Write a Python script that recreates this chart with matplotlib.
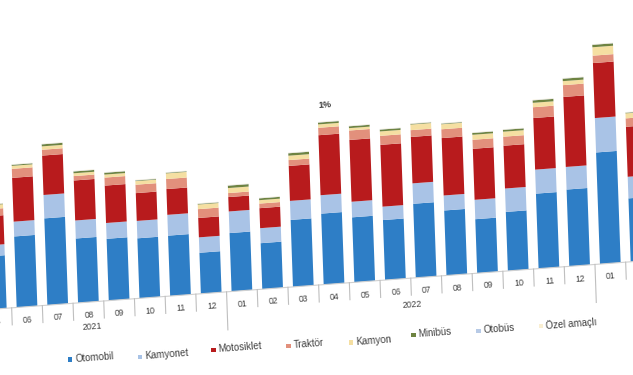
import numpy as np
import matplotlib
matplotlib.use('Agg')
import matplotlib.pyplot as plt
from matplotlib.patches import Rectangle
from matplotlib.transforms import Affine2D, IdentityTransform

plt.rcParams['font.family'] = ['Liberation Sans', 'DejaVu Sans']

# monthly registrations (bin adet), 05/2021 - 02/2023
months = ['05', '06', '07', '08', '09', '10', '11', '12',
          '01', '02', '03', '04', '05', '06', '07', '08', '09', '10', '11', '12',
          '01', '02']
years = ['2021', '2022']
otomobil = [26.5, 35.5, 43.4, 32.2, 30.9, 30.0, 30.2, 20.5, 29.2, 23.0, 33.5,
            35.5, 32.5, 30.0, 37.0, 32.5, 27.0, 29.5, 37.5, 38.4, 55.8, 31.7]
kamyonet = [5.5, 7.4, 11.7, 9.0, 7.9, 8.7, 10.4, 7.7, 10.8, 7.5, 9.5, 9.2,
            7.8, 6.7, 10.2, 7.5, 9.7, 11.7, 12.0, 11.3, 17.2, 10.8]
motosiklet = [14.5, 21.9, 19.7, 20.0, 18.7, 13.9, 12.9, 9.7, 7.2, 10.0, 17.5,
              30.0, 30.9, 30.9, 23.2, 28.7, 25.5, 21.4, 25.8, 35.0, 27.5, 25.0]
traktor = [3.5, 4.5, 2.9, 2.2, 4.0, 4.2, 5.0, 4.4, 2.0, 2.3, 2.9, 3.7, 4.7,
           4.5, 3.4, 4.4, 4.5, 4.5, 5.4, 5.9, 3.7, 4.2]
kamyon = [2.0, 1.5, 1.7, 1.4, 1.5, 1.8, 2.8, 2.3, 2.5, 1.7, 2.2, 1.7, 1.2,
          2.2, 2.8, 2.5, 2.5, 2.5, 2.2, 2.0, 4.2, 2.5]
minibus = [0.3, 0.5, 1.0, 0.9, 0.9, 0.3, 0.3, 0.3, 1.2, 0.9, 1.2, 0.9, 0.9,
           0.9, 0.3, 0.3, 0.9, 0.9, 1.2, 1.2, 1.2, 0.3]
otobus = [0.15] * 22
ozel = [0.2] * 22

series = {
    'Otomobil': (otomobil, '#2E7EC6'),
    'Kamyonet': (kamyonet, '#A9C3E6'),
    'Motosiklet': (motosiklet, '#B81B1D'),
    'Traktör': (traktor, '#E2907C'),
    'Kamyon': (kamyon, '#F5DFA2'),
    'Minibüs': (minibus, '#6E8341'),
    'Otobüs': (otobus, '#B7CAE6'),
    'Özel amaçlı': (ozel, '#FAEFD2'),
}

fig = plt.figure(figsize=(6.33, 3.75), dpi=100)
ax = fig.add_axes([0, 0, 1, 1])
ax.axis('off')

# the source picture is slanted: baseline rises to the right, bars lean left
px, py = 27, 68.3
slant = (Affine2D().translate(-px, -py)
         + Affine2D(np.array([[1, -0.035, 0], [0.0744, 1, 0], [0, 0, 1]]))
         + Affine2D().translate(px, py))
tr = ax.transData + slant
ang = np.degrees(np.arctan(0.0744))

x = np.arange(len(months))
bottom = np.zeros(len(months))
for name, (vals, col) in series.items():
    bars = ax.bar(x, vals, 0.674, bottom=bottom, color=col, linewidth=0)
    for p in bars:
        p.set_transform(tr)
        p.set_clip_on(False)
    bottom += np.array(vals)

# axis line, separators and labels
ax.plot([-1, 22], [0, 0], color='#D0D0D0', lw=0.8, transform=tr, clip_on=False)
for i in range(len(months) - 1):
    low = -19 if months[i] == '12' else -8.5
    ax.plot([i + 0.5, i + 0.5], [0, low], color='#BFBFBF', lw=0.8,
            transform=tr, clip_on=False)
# last month's label falls outside the visible area
for i, m in enumerate(months[:-1]):
    ax.text(i, -6.6, m, fontsize=6.3, color='#404040', ha='center', va='center',
            rotation=ang, rotation_mode='anchor', transform=tr)
ax.text(3.1, -12.5, years[0], fontsize=6.3, color='#404040', ha='center',
        va='center', rotation=ang, rotation_mode='anchor', transform=tr)
ax.text(13.5, -13.5, years[1], fontsize=6.3, color='#404040', ha='center',
        va='center', rotation=ang, rotation_mode='anchor', transform=tr)

ax.set_xlim(0.1205, 20.739)
ax.set_ylim(-34.15, 153.35)

fig.text(325 / 633, 1 - 105 / 375, '1%', fontsize=6.5, color='#404040',
         ha='center', va='center', rotation=ang, fontweight='bold')

# legend, laid out along the slanted row
leg_pos = [(70, 359.3), (140, 356.7), (213.3, 350), (288.3, 345.7),
           (350.7, 342.3), (413.3, 335), (478.3, 330.7), (540.7, 326)]
for (lx, ly), (name, (vals, col)) in zip(leg_pos, series.items()):
    fig.patches.append(Rectangle((lx - 2.2, 375 - ly - 2.2), 4.4, 4.4,
                                 facecolor=col, edgecolor='none',
                                 transform=IdentityTransform(), figure=fig))
    fig.text((lx + 5) / 633, 1 - (ly - 0.5) / 375, name, fontsize=7,
             color='#404040', ha='left', va='center', rotation=ang,
             rotation_mode='anchor')

fig.savefig('out.png', dpi=100)
